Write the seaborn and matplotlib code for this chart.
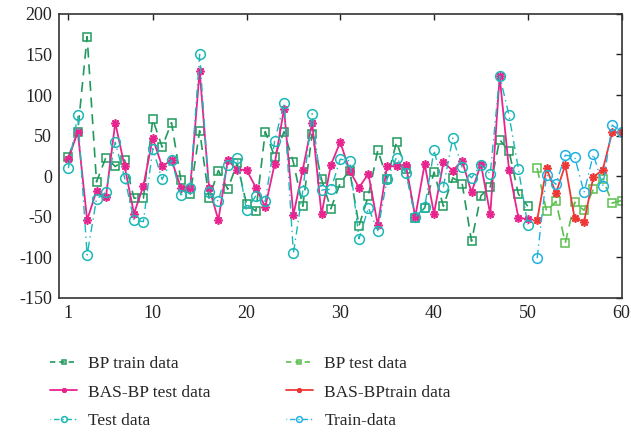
import numpy as np
import pandas as pd
import seaborn as sns
import matplotlib
matplotlib.use("Agg")
import matplotlib.pyplot as plt
from matplotlib.lines import Line2D

# ---------------- data ----------------
x_first = list(range(1, 51))
x_second = list(range(51, 61))

bp_train = [24, 55, 172, -7, 23, 12, 20, -27, -27, 70,
            36, 66, -5, -22, 56, -27, 7, -16, 16, -34,
            -43, 55, 24, 55, 17, -37, 52, -4, -40, -8,
            7, -61, -24, 32, -3, 42, 9, -51, -39, 5,
            -37, -2, -9, -80, -24, -13, 45, 31, -22, -37]
bas_bp_test = [21, 55, -54, -18, -26, 66, 12, -46, -12, 47,
               12, 20, -14, -14, 130, -14, -54, 20, 8, 8,
               -14, -38, 15, 83, -48, 8, 66, -47, 14, 42,
               7, -14, 3, -60, 13, 12, 14, -50, 15, -46,
               17, 7, 19, -20, 15, -47, 123, 8, -51, -53]
test_data = [10, 75, -97, -28, -20, 42, -2, -54, -56, 34,
             -4, 20, -23, -14, 150, -20, -31, 14, 23, -42,
             -24, -31, 43, 90, -95, -18, 77, -17, -16, 21,
             19, -77, -39, -67, -3, 23, 4, -50, -38, 32,
             -13, 47, 11, -2, 14, 3, 124, 75, 9, -60]

bp_test = [10, -43, -31, -82, -32, -42, -16, -3, -33, -30]
bas_bp_train = [-54, 10, -21, 14, -52, -56, -1, 8, 54, 54]
train_data = [-101, 2, -10, 26, 24, -20, 27, -12, 63, 55]

labels = ["BP train data", "BP test data", "BAS-BP test data",
          "BAS-BPtrain data", "Test data", "Train-data"]
colors = ["#219a5e", "#5cc04f", "#e8248f", "#ee3838", "#1cb8b8", "#22b2e2"]

xticks = [1, 10, 20, 30, 40, 50, 60]
yticks = [-150, -100, -50, 0, 50, 100, 150, 200]

# ---------------- plot ----------------
sns.set_theme(style="white")
plt.rcParams["font.family"] = ["Liberation Serif", "DejaVu Serif"]
plt.rcParams["axes.unicode_minus"] = False

fig = plt.figure(figsize=(6.31, 4.34), dpi=100)
ax = fig.add_axes([0.0935, 0.3134, 0.8915, 0.6546])

dash = (0, (6, 4))
dashdot = (0, (6, 3, 1, 3))
series = [
    (x_first, bp_train, dict(linestyle=dash, marker="s", ms=5.5, mfc="none", mew=1.1, lw=1.2)),
    (x_second, bp_test, dict(linestyle=dash, marker="s", ms=5.5, mfc="none", mew=1.1, lw=1.2)),
    (x_first, bas_bp_test, dict(linestyle="-", marker=(8, 2, 0), ms=6, mew=1.2, lw=1.3)),
    (x_second, bas_bp_train, dict(linestyle="-", marker=(8, 2, 0), ms=6, mew=1.2, lw=1.3)),
    (x_first, test_data, dict(linestyle=dashdot, marker="o", ms=7, mfc="none", mew=1.1, lw=1.0)),
    (x_second, train_data, dict(linestyle=dashdot, marker="o", ms=7, mfc="none", mew=1.1, lw=1.0)),
]
legend_ls = [(0, (3.2, 2.4)), (0, (3.2, 2.4)), "-", "-", (0.5, (1, 2, 4, 2)), (0.5, (1, 2, 4, 2))]

handles = []
for (xs, ys, kw), lab, col, lls in zip(series, labels, colors, legend_ls):
    df = pd.DataFrame({"x": xs, "y": ys})
    sns.lineplot(data=df, x="x", y="y", ax=ax, color=col, label=lab,
                 markeredgecolor=col, legend=False, **kw)
    h = Line2D([], [], color=col, linestyle=lls, lw=kw["lw"], marker=kw["marker"],
               ms=kw["ms"] * 0.6, mfc=kw.get("mfc", col), mec=col, mew=kw["mew"])
    handles.append(h)

ax.set_xlim(0, 60)
ax.set_ylim(-150, 200)
ax.set_xticks(xticks)
ax.set_yticks(yticks)
ax.set_xlabel("")
ax.set_ylabel("")
ax.tick_params(direction="in", length=4, width=1, top=True, right=True,
               labelsize=13, colors="#222222", pad=5)
for sp in ax.spines.values():
    sp.set_color("#333333")
    sp.set_linewidth(1.2)

order = [0, 2, 4, 1, 3, 5]
fig.legend([handles[i] for i in order], [labels[i] for i in order],
           loc="upper left", bbox_to_anchor=(0.054, 0.216), ncol=2,
           frameon=False, fontsize=12.5, handlelength=1.6,
           columnspacing=4.3, labelspacing=0.71, handletextpad=0.63)

fig.savefig("out.png", dpi=100)
